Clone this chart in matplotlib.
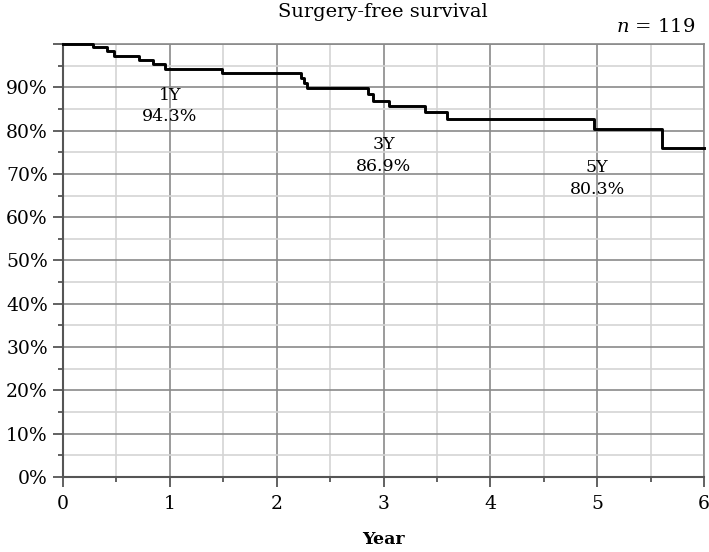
import numpy as np
import matplotlib
matplotlib.use("Agg")
import matplotlib.pyplot as plt
from matplotlib.ticker import MultipleLocator, FuncFormatter

# Kaplan-Meier step curve (years, % surgery-free)
times = [0, 0.28, 0.415, 0.48, 0.71, 0.84, 0.95, 1.49, 2.23, 2.26, 2.28,
         2.85, 2.905, 3.05, 3.39, 3.59, 4.97, 5.61, 6.0]
surv = [100, 99.2, 98.3, 97.3, 96.3, 95.3, 94.3, 93.2, 92.1, 91.0, 89.8,
        88.4, 86.9, 85.6, 84.2, 82.6, 80.3, 75.9, 75.9]

# landmark annotations
mark_years = [1, 3, 5]
mark_labels = ["1Y", "3Y", "5Y"]
mark_values = ["94.3%", "86.9%", "80.3%"]
mark_y = [88.2, 76.7, 71.4]

plt.rcParams['font.family'] = ['DejaVu Serif']
plt.rcParams['mathtext.fontset'] = 'dejavuserif'

fig = plt.figure(figsize=(7.09, 5.52), dpi=100)
ax = fig.add_axes([0.0889, 0.1359, 0.9041, 0.7844])

major_c = "#8a8a8a"
minor_c = "#d4d4d4"

ax.step(times, surv, where="post", color="black", linewidth=2.1,
        clip_on=False, zorder=5)

for yr, lab, val, yy in zip(mark_years, mark_labels, mark_values, mark_y):
    ax.text(yr, yy, lab, ha="center", va="center", fontsize=12.5, zorder=6)
    ax.text(yr, yy - 4.9, val, ha="center", va="center", fontsize=12.5, zorder=6)

ax.set_xlim(0, 6)
ax.set_ylim(0, 100)
ax.xaxis.set_major_locator(MultipleLocator(1))
ax.xaxis.set_minor_locator(MultipleLocator(0.5))
ax.yaxis.set_major_locator(MultipleLocator(10))
ax.yaxis.set_minor_locator(MultipleLocator(5))
ax.yaxis.set_major_formatter(FuncFormatter(lambda v, p: "%d%%" % v if v < 100 else ""))

ax.grid(which="major", color=major_c, linewidth=1.2)
ax.grid(which="minor", color=minor_c, linewidth=1.2)
ax.set_axisbelow(True)

for s in ["top", "right"]:
    ax.spines[s].set_color(major_c)
    ax.spines[s].set_linewidth(1.2)
for s in ["left", "bottom"]:
    ax.spines[s].set_color("#555555")
    ax.spines[s].set_linewidth(1.5)

ax.tick_params(which="major", length=7, width=1.3, color="#555555",
               labelsize=13.5, pad=4)
ax.tick_params(which="minor", length=3.5, width=1.3, color="#555555")
ax.tick_params(axis="x", pad=6)

ax.set_xlabel("Year", fontsize=12.5, fontweight="bold", labelpad=13)
fig.text(0.54, 0.978, "Surgery-free survival", ha="center", va="center", fontsize=14)
fig.text(0.981, 0.951, "$n$ = 119", ha="right", va="center", fontsize=14)

fig.savefig("out.png", dpi=100)
